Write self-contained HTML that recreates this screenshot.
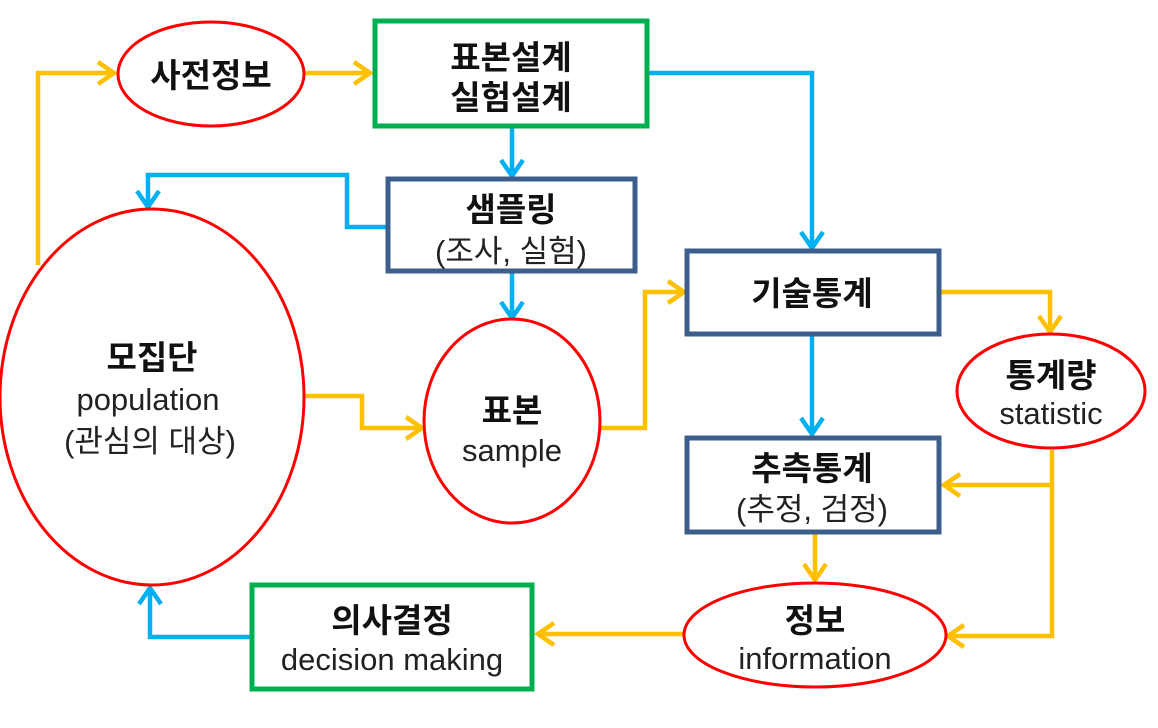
<!DOCTYPE html>
<html><head><meta charset="utf-8"><style>
html,body{margin:0;padding:0;background:#fff;}
svg{display:block;}
text{font-family:"Liberation Sans","Noto Sans CJK KR",sans-serif;fill:#111;text-anchor:middle;}
.b{font-weight:bold;font-size:33px;}
.n{font-size:31px;fill:#222;}
</style></head><body>
<svg width="1158" height="728" viewBox="0 0 1158 728" xmlns="http://www.w3.org/2000/svg">
<g fill="none" stroke-width="4.5" stroke-linejoin="miter">
<g stroke="#ffc000">
<polyline points="38,265 38,73 112,73"/><polyline points="98,62 114,73 98,84"/>
<polyline points="305,73 368,73"/><polyline points="354,62 370,73 354,84"/>
<polyline points="305,396 362,396 362,428 420,428"/><polyline points="406,417 422,428 406,439"/>
<polyline points="600,428 645,428 645,292 682,292"/><polyline points="668,281 684,292 668,303"/>
<polyline points="940,292 1050,292 1050,330"/><polyline points="1039,316 1050,332 1061,316"/>
<polyline points="1052,450 1052,636 950,636"/><polyline points="964,625 948,636 964,647"/>
<polyline points="1052,485 946,485"/><polyline points="960,474 944,485 960,496"/>
<polyline points="815,533 815,578"/><polyline points="804,564 815,580 826,564"/>
<polyline points="684,634 540,634"/><polyline points="554,623 538,634 554,645"/>
</g>
<g stroke="#00b0f0">
<polyline points="648,73 812,73 812,246"/><polyline points="801,232 812,248 823,232"/>
<polyline points="512,127 512,174"/><polyline points="501,160 512,176 523,160"/>
<polyline points="387,227 347,227 347,175 148,175 148,205"/><polyline points="137,191 148,207 159,191"/>
<polyline points="512,272 512,316"/><polyline points="501,302 512,318 523,302"/>
<polyline points="812,335 812,432"/><polyline points="801,418 812,434 823,418"/>
<polyline points="251,637 150,637 150,590"/><polyline points="139,604 150,588 161,604"/>
</g>
<g stroke="#ff0000" stroke-width="3" fill="#fff">
<ellipse cx="211" cy="74" rx="93" ry="52"/>
<ellipse cx="152" cy="397" rx="152" ry="188"/>
<ellipse cx="512" cy="421" rx="88" ry="102"/>
<ellipse cx="1051" cy="391" rx="94" ry="57"/>
<ellipse cx="815" cy="635" rx="131" ry="52"/>
</g>
<g stroke="#00b050" stroke-width="5" fill="#fff">
<rect x="375" y="21" width="272" height="105"/>
<rect x="252" y="585" width="280" height="104"/>
</g>
<g stroke="#3d5d8a" stroke-width="5" fill="#fff">
<rect x="388" y="179" width="247" height="92"/>
<rect x="687" y="251" width="252" height="83"/>
<rect x="687" y="438" width="252" height="94"/>
</g>
</g>
<text class="b" x="211" y="87">사전정보</text>
<text class="b" x="511" y="69">표본설계</text>
<text class="b" x="511" y="109">실험설계</text>
<text class="b" x="511" y="221">샘플링</text>
<text class="n" x="511" y="262">(조사, 실험)</text>
<text class="b" x="152" y="369">모집단</text>
<text class="n" x="148" y="410">population</text>
<text class="n" x="150" y="452">(관심의 대상)</text>
<text class="b" x="512" y="422">표본</text>
<text class="n" x="512" y="461">sample</text>
<text class="b" x="812" y="305">기술통계</text>
<text class="b" x="1051" y="387">통계량</text>
<text class="n" x="1051" y="424">statistic</text>
<text class="b" x="812" y="480">추측통계</text>
<text class="n" x="812" y="520">(추정, 검정)</text>
<text class="b" x="815" y="632">정보</text>
<text class="n" x="815" y="669">information</text>
<text class="b" x="392" y="632">의사결정</text>
<text class="n" x="392" y="670">decision making</text>
</svg>
</body></html>
